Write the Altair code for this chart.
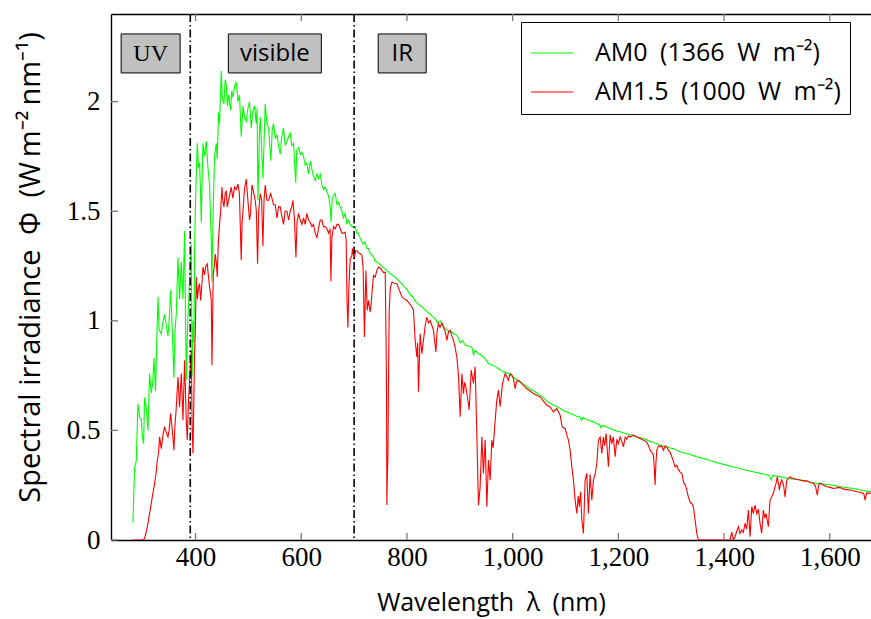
import altair as alt
import pandas as pd

# ---------------- data ----------------
AM0_WL = [281.6, 284.6, 287.8, 291.0, 294.0, 297.3, 299.5, 301.7, 303.5, 307.0, 310.0, 313.0, 316.2, 319.0,
          321.3, 324.3, 326.5, 328.9, 331.0, 335.1, 338.0, 341.4, 344.5, 347.8, 350.0, 352.7, 355.0, 359.1,
          361.0, 363.5, 366.7, 369.7, 373.0, 376.2, 379.2, 382.4, 384.5, 386.8, 389.0, 391.9, 393.5, 395.5,
          397.0, 398.1, 400.0, 403.2, 405.7, 407.6, 409.5, 410.8, 412.0, 414.0, 417.0, 420.2, 423.4, 426.5,
          429.7, 431.0, 432.9, 435.9, 439.2, 441.0, 443.5, 445.4, 448.6, 450.5, 453.7, 456.0, 458.0, 460.0,
          462.4, 466.2, 468.5, 470.7, 473.8, 477.0, 480.2, 483.2, 486.4, 489.7, 492.5, 495.9, 499.0, 502.1,
          505.4, 508.6, 511.6, 514.8, 516.5, 518.0, 521.0, 522.4, 527.5, 531.8, 535.0, 538.1, 542.6, 545.0,
          547.5, 551.0, 554.0, 557.0, 560.2, 563.0, 566.4, 569.5, 572.9, 576.0, 579.1, 582.0, 585.4, 589.5,
          591.5, 594.8, 598.0, 601.2, 604.3, 607.5, 610.7, 613.7, 617.0, 620.2, 623.0, 626.4, 629.6, 632.5,
          635.9, 639.1, 642.0, 645.3, 648.5, 651.6, 654.8, 656.5, 658.5, 661.0, 664.2, 667.5, 670.5, 673.7,
          677.0, 680.0, 683.0, 686.4, 689.0, 692.6, 695.8, 698.8, 702.0, 705.3, 708.0, 711.0, 714.7, 718.0,
          721.0, 724.0, 727.2, 730.0, 733.6, 737.0, 740.0, 743.1, 748.0, 752.6, 757.0, 762.0, 766.0, 771.5,
          777.0, 784.0, 790.0, 796.6, 801.0, 806.1, 811.0, 815.5, 820.0, 825.0, 830.0, 834.4, 839.0, 843.9,
          848.0, 853.4, 858.0, 862.8, 867.0, 872.3, 878.0, 884.9, 889.0, 894.4, 900.7, 905.0, 910.1, 916.0,
          922.8, 925.8, 929.0, 935.3, 940.0, 944.7, 950.0, 954.2, 959.0, 963.7, 968.0, 973.1, 978.0, 982.6,
          987.0, 992.0, 998.0, 1004.7, 1010.0, 1015.0, 1020.0, 1026.8, 1032.0, 1038.0, 1045.0, 1052.0, 1058.0,
          1064.0, 1070.0, 1077.0, 1083.0, 1090.0, 1096.0, 1102.5, 1108.0, 1115.0, 1121.0, 1127.6, 1130.0,
          1133.0, 1140.0, 1146.0, 1152.8, 1159.0, 1165.0, 1167.0, 1170.0, 1178.0, 1184.0, 1190.0, 1196.0,
          1203.0, 1210.0, 1216.0, 1222.0, 1228.0, 1235.0, 1241.0, 1248.0, 1253.8, 1260.0, 1266.0, 1272.0,
          1279.0, 1285.0, 1291.0, 1298.0, 1304.0, 1310.0, 1316.8, 1323.0, 1329.5, 1336.0, 1342.0, 1348.0,
          1354.7, 1361.0, 1367.0, 1373.0, 1380.0, 1386.0, 1392.4, 1399.0, 1405.0, 1411.0, 1418.0, 1424.0,
          1430.0, 1436.0, 1442.0, 1449.0, 1455.0, 1461.0, 1468.0, 1474.0, 1480.0, 1485.0, 1489.0, 1492.0,
          1498.0, 1505.8, 1512.0, 1518.0, 1525.0, 1531.0, 1537.0, 1543.6, 1550.0, 1556.0, 1562.0, 1569.0,
          1575.0, 1581.0, 1588.0, 1594.0, 1600.0, 1607.0, 1613.0, 1619.0, 1626.0, 1632.0, 1638.0, 1644.6,
          1651.0, 1657.0, 1663.0, 1670.0, 1678.0]
AM0_PHI = [0.08, 0.33, 0.36, 0.62, 0.56, 0.55, 0.47, 0.44, 0.65, 0.60, 0.50, 0.76, 0.67, 0.72,
           0.83, 0.68, 0.90, 1.11, 0.96, 0.94, 0.99, 1.03, 0.98, 0.93, 1.00, 1.14, 1.02, 0.74,
           0.95, 1.03, 1.29, 1.10, 1.27, 1.10, 1.41, 0.73, 0.95, 1.08, 1.20, 1.35, 0.75, 1.00,
           0.90, 1.31, 1.55, 1.81, 1.70, 1.72, 1.58, 1.45, 1.60, 1.81, 1.75, 1.82, 1.70, 1.62,
           1.37, 1.18, 1.45, 1.75, 1.81, 1.74, 1.95, 1.90, 2.14, 2.02, 1.99, 2.10, 2.08, 1.98,
           2.03, 1.96, 2.05, 2.02, 2.07, 2.09, 2.00, 2.03, 1.84, 1.98, 1.93, 1.91, 1.97, 2.00,
           1.88, 1.96, 1.98, 1.90, 1.97, 1.55, 1.86, 1.93, 1.65, 1.99, 1.90, 1.88, 1.73, 1.87,
           1.90, 1.83, 1.85, 1.80, 1.76, 1.84, 1.88, 1.80, 1.82, 1.84, 1.86, 1.80, 1.81, 1.63,
           1.78, 1.79, 1.76, 1.77, 1.75, 1.71, 1.72, 1.67, 1.73, 1.69, 1.66, 1.64, 1.67, 1.65,
           1.67, 1.62, 1.60, 1.61, 1.59, 1.57, 1.52, 1.45, 1.56, 1.57, 1.58, 1.53, 1.54, 1.52,
           1.50, 1.47, 1.49, 1.44, 1.46, 1.44, 1.43, 1.43, 1.43, 1.40, 1.40, 1.38, 1.36, 1.35,
           1.36, 1.33, 1.33, 1.31, 1.30, 1.29, 1.27, 1.27, 1.26, 1.25, 1.24, 1.23, 1.22, 1.21,
           1.20, 1.185, 1.17, 1.15, 1.14, 1.12, 1.11, 1.09, 1.08, 1.07, 1.06, 1.05, 1.04, 1.03,
           1.02, 1.01, 0.99, 1.00, 0.98, 0.965, 0.955, 0.95, 0.94, 0.935, 0.90, 0.91, 0.89, 0.885,
           0.88, 0.845, 0.865, 0.85, 0.845, 0.835, 0.82, 0.805, 0.80, 0.795, 0.79, 0.78, 0.775, 0.767,
           0.765, 0.758, 0.748, 0.736, 0.73, 0.72, 0.712, 0.70, 0.69, 0.683, 0.672, 0.66, 0.65,
           0.635, 0.625, 0.615, 0.61, 0.60, 0.59, 0.585, 0.578, 0.572, 0.565, 0.56, 0.545,
           0.558, 0.55, 0.545, 0.539, 0.532, 0.524, 0.512, 0.523, 0.516, 0.51, 0.503, 0.498,
           0.494, 0.488, 0.484, 0.48, 0.478, 0.472, 0.467, 0.462, 0.456, 0.45, 0.445, 0.44,
           0.433, 0.428, 0.425, 0.42, 0.417, 0.41, 0.403, 0.398, 0.395, 0.39, 0.385, 0.38,
           0.376, 0.372, 0.368, 0.363, 0.358, 0.353, 0.349, 0.345, 0.341, 0.337, 0.333, 0.33,
           0.327, 0.322, 0.318, 0.315, 0.311, 0.308, 0.304, 0.301, 0.298, 0.296, 0.274, 0.295,
           0.292, 0.289, 0.286, 0.283, 0.28, 0.278, 0.276, 0.274, 0.271, 0.268, 0.265, 0.262,
           0.258, 0.258, 0.255, 0.253, 0.252, 0.25, 0.247, 0.244, 0.241, 0.239, 0.237, 0.235,
           0.232, 0.229, 0.226, 0.223, 0.22]

AM15_WL = [281.0, 300.0, 303.5, 307.0, 310.0, 313.0, 316.2, 319.0, 322.5, 325.0, 327.6, 330.0, 331.9, 335.1,
           338.3, 341.4, 344.6, 347.8, 350.0, 352.7, 356.0, 359.1, 361.0, 363.5, 366.7, 369.7, 373.0, 376.2,
           379.2, 382.4, 384.3, 386.5, 388.7, 391.9, 393.6, 395.1, 396.5, 398.1, 399.5, 401.3, 403.5, 405.7,
           407.6, 409.5, 411.5, 414.0, 417.0, 419.5, 422.1, 424.5, 426.5, 429.7, 431.0, 433.5, 435.5, 437.3,
           439.5, 441.0, 443.0, 445.4, 447.5, 449.9, 451.5, 453.7, 456.0, 458.0, 460.0, 462.4, 465.0, 467.5,
           470.5, 473.8, 477.0, 480.2, 483.0, 486.4, 488.0, 489.7, 492.5, 495.9, 499.0, 502.1, 504.0, 506.7,
           508.6, 512.9, 515.0, 517.3, 519.5, 522.4, 525.0, 527.5, 529.5, 531.8, 535.0, 538.1, 542.0, 544.5,
           547.5, 550.7, 554.0, 557.0, 560.2, 563.0, 566.4, 569.5, 572.9, 576.0, 579.1, 582.0, 584.2, 587.0,
           589.9, 592.0, 594.8, 598.0, 601.2, 604.3, 607.5, 610.7, 613.7, 617.0, 620.2, 623.0, 626.4, 629.6,
           632.5, 635.9, 639.1, 642.0, 645.3, 648.5, 651.6, 654.5, 656.1, 658.0, 661.0, 664.2, 667.5, 670.5,
           673.7, 677.0, 679.9, 683.0, 685.0, 686.5, 688.3, 690.0, 692.6, 695.8, 697.0, 700.0, 703.0, 705.3,
           708.0, 711.5, 714.7, 717.0, 719.5, 722.3, 724.8, 727.2, 730.4, 732.3, 734.5, 736.7, 739.9, 743.0,
           746.2, 749.5, 752.6, 755.5, 758.8, 760.5, 761.3, 762.0, 763.0, 763.9, 765.0, 766.4, 768.5, 771.5,
           776.0, 781.0, 785.5, 790.4, 795.0, 799.9, 804.5, 809.3, 812.3, 815.5, 818.7, 820.3, 821.8, 825.0,
           828.2, 831.2, 834.5, 837.7, 840.5, 843.9, 847.0, 850.2, 854.7, 857.0, 859.6, 862.5, 866.1, 869.1,
           872.5, 875.5, 878.5, 881.8, 885.0, 888.0, 891.0, 894.4, 897.5, 900.7, 903.9, 906.9, 909.0, 911.4,
           914.5, 917.7, 921.5, 925.8, 929.0, 932.2, 935.3, 938.5, 941.7, 944.7, 948.0, 951.2, 954.2, 957.4,
           960.6, 963.0, 965.5, 968.0, 970.0, 973.1, 976.3, 978.5, 980.7, 983.5, 985.8, 989.0, 992.0, 995.0,
           998.5, 1001.5, 1004.7, 1007.5, 1010.5, 1014.2, 1020.4, 1026.8, 1033.0, 1039.3, 1045.5, 1052.0,
           1058.0, 1064.6, 1070.9, 1077.1, 1083.5, 1089.8, 1093.6, 1099.3, 1102.5, 1105.5, 1108.7, 1111.9,
           1115.0, 1118.2, 1121.4, 1124.0, 1126.3, 1128.5, 1130.9, 1133.9, 1137.1, 1140.3, 1143.3, 1146.5,
           1149.8, 1152.8, 1156.0, 1159.2, 1162.2, 1165.5, 1168.7, 1171.7, 1174.0, 1176.8, 1181.2, 1184.4,
           1187.5, 1190.6, 1193.9, 1197.1, 1200.0, 1203.3, 1206.5, 1209.6, 1213.0, 1216.0, 1219.0, 1222.3,
           1228.5, 1234.5, 1241.2, 1247.5, 1253.8, 1257.0, 1260.1, 1263.0, 1266.3, 1268.0, 1269.5, 1271.0,
           1272.7, 1276.0, 1279.0, 1282.0, 1285.2, 1288.5, 1291.6, 1294.5, 1297.9, 1301.1, 1304.0, 1307.3,
           1310.5, 1313.6, 1317.0, 1320.0, 1322.0, 1324.3, 1327.0, 1329.4, 1332.0, 1334.4, 1336.5, 1338.9,
           1341.9, 1345.2, 1348.4, 1351.4, 1411.3, 1414.6, 1417.6, 1420.8, 1424.0, 1427.0, 1430.2, 1433.5,
           1436.5, 1439.7, 1442.9, 1445.9, 1449.2, 1452.4, 1455.5, 1458.6, 1461.8, 1465.0, 1468.0, 1471.2,
           1474.3, 1477.0, 1479.4, 1483.8, 1487.0, 1490.2, 1493.2, 1496.0, 1498.4, 1500.8, 1504.6, 1507.0,
           1509.2, 1512.5, 1515.4, 1518.6, 1521.5, 1524.8, 1528.0, 1531.1, 1537.5, 1543.8, 1550.0, 1556.4,
           1562.5, 1569.0, 1573.0, 1576.5, 1579.0, 1581.6, 1588.0, 1594.3, 1600.5, 1606.8, 1613.0, 1619.4,
           1626.0, 1632.0, 1638.4, 1645.0, 1651.0, 1658.0, 1664.5, 1666.7, 1669.9, 1674.0, 1678.0]
AM15_PHI = [0.0, 0.0, 0.006, 0.04, 0.076, 0.12, 0.167, 0.21, 0.258, 0.30, 0.364, 0.40, 0.471, 0.417,
            0.48, 0.516, 0.49, 0.47, 0.50, 0.577, 0.50, 0.41, 0.52, 0.605, 0.744, 0.606, 0.76, 0.547,
            0.82, 0.55, 0.456, 0.62, 0.729, 0.866, 0.50, 0.395, 0.60, 0.85, 0.95, 1.20, 1.10, 1.155,
            1.17, 1.093, 1.15, 1.245, 1.21, 1.25, 1.26, 1.20, 1.155, 1.10, 0.797, 1.214, 1.25, 1.305,
            1.26, 1.20, 1.35, 1.442, 1.50, 1.61, 1.55, 1.519, 1.58, 1.594, 1.52, 1.55, 1.58, 1.61,
            1.56, 1.61, 1.60, 1.624, 1.58, 1.276, 1.45, 1.50, 1.60, 1.647, 1.55, 1.46, 1.49, 1.62,
            1.60, 1.55, 1.50, 1.26, 1.50, 1.58, 1.55, 1.34, 1.55, 1.62, 1.55, 1.55, 1.58, 1.56,
            1.53, 1.53, 1.47, 1.52, 1.52, 1.48, 1.44, 1.50, 1.50, 1.46, 1.50, 1.52, 1.55, 1.47,
            1.29, 1.45, 1.49, 1.46, 1.44, 1.47, 1.44, 1.49, 1.46, 1.45, 1.43, 1.44, 1.40, 1.38,
            1.42, 1.46, 1.46, 1.43, 1.43, 1.42, 1.40, 1.42, 1.18, 1.38, 1.43, 1.42, 1.44, 1.44,
            1.42, 1.40, 1.40, 1.405, 1.37, 1.10, 0.97, 1.15, 1.28, 1.30, 1.33, 1.28, 1.32, 1.32,
            1.31, 1.306, 1.30, 1.245, 0.926, 1.23, 1.048, 1.093, 1.04, 1.078, 1.15, 1.207, 1.199, 1.23,
            1.245, 1.24, 1.23, 1.22, 1.222, 0.90, 0.683, 0.16, 0.30, 0.379, 0.70, 1.047, 1.15, 1.177,
            1.17, 1.169, 1.14, 1.109, 1.10, 1.093, 1.08, 1.063, 1.048, 0.911, 0.835, 0.90, 0.676, 0.941,
            0.85, 0.911, 0.98, 1.017, 0.99, 1.002, 0.98, 0.957, 0.858, 0.95, 0.987, 0.97, 0.99, 0.972,
            0.95, 0.911, 0.95, 0.957, 0.93, 0.911, 0.88, 0.835, 0.75, 0.562, 0.759, 0.668, 0.72, 0.699,
            0.65, 0.593, 0.775, 0.714, 0.79, 0.486, 0.159, 0.243, 0.471, 0.304, 0.456, 0.152, 0.365, 0.274,
            0.456, 0.42, 0.502, 0.58, 0.638, 0.684, 0.608, 0.66, 0.714, 0.74, 0.759, 0.745, 0.729, 0.759,
            0.752, 0.737, 0.69, 0.725, 0.728, 0.721, 0.705, 0.69, 0.68, 0.668, 0.66, 0.653,
            0.635, 0.615, 0.607, 0.585, 0.60, 0.569, 0.516, 0.508, 0.48, 0.456, 0.41, 0.334,
            0.273, 0.182, 0.121, 0.20, 0.152, 0.22, 0.091, 0.03, 0.273, 0.304, 0.121, 0.30,
            0.182, 0.273, 0.30, 0.349, 0.456, 0.47, 0.395, 0.47, 0.43, 0.486, 0.334, 0.48,
            0.44, 0.47, 0.38, 0.46, 0.44, 0.47, 0.45, 0.425, 0.47, 0.46, 0.475, 0.47,
            0.478, 0.47, 0.463, 0.455, 0.447, 0.43, 0.41, 0.40, 0.387, 0.33, 0.251, 0.35,
            0.41, 0.43, 0.425, 0.43, 0.41, 0.43, 0.425, 0.41, 0.40, 0.38, 0.36, 0.334,
            0.34, 0.32, 0.31, 0.304, 0.28, 0.258, 0.25, 0.228, 0.20, 0.182, 0.17, 0.167,
            0.152, 0.091, 0.03, 0.0, 0.0, 0.036, 0.0, 0.015, 0.04, 0.061, 0.03, 0.046,
            0.035, 0.076, 0.05, 0.137, 0.015, 0.152, 0.12, 0.159, 0.121, 0.14, 0.076, 0.03,
            0.137, 0.10, 0.121, 0.061, 0.182, 0.197, 0.213, 0.24, 0.258, 0.289, 0.228, 0.26,
            0.274, 0.25, 0.197, 0.274, 0.28, 0.289, 0.283, 0.28, 0.277, 0.274, 0.27, 0.27,
            0.263, 0.258, 0.245, 0.205, 0.25, 0.26, 0.25, 0.243, 0.24, 0.235, 0.238, 0.24,
            0.232, 0.23, 0.228, 0.225, 0.22, 0.218, 0.21, 0.182, 0.215, 0.214, 0.213]

SERIES = ["AM0\u2002(1366\u2002W\u2002m⁻²)", "AM1.5\u2002(1000\u2002W\u2002m⁻²)"]
COLORS = ["#00ff00", "#ff0000"]
BOUNDARIES = [390, 700]
REGION_NAMES = ["UV", "visible", "IR"]
REGION_CENTERS = [315, 550, 791]
REGION_LEVEL = 2.22
X_TICKS = [400, 600, 800, 1000, 1200, 1400, 1600]
Y_TICKS = [0, 0.5, 1, 1.5, 2]
X_DOMAIN = [240, 1678]
Y_DOMAIN = [0, 2.4]

# ---------------- layout / style ----------------
W, H = 760, 526
SERIF = "Liberation Serif"
SANS = "Open Sans"
TICK_GRAY = "#7a7a7a"
TICK_LEN = 7

xscale = alt.Scale(domain=X_DOMAIN, nice=False, zero=False)
yscale = alt.Scale(domain=Y_DOMAIN, nice=False, zero=False)

spectra = pd.DataFrame({
    "wl": AM0_WL + AM15_WL,
    "phi": AM0_PHI + AM15_PHI,
    "series": [SERIES[0]] * len(AM0_WL) + [SERIES[1]] * len(AM15_WL),
})

lines = alt.Chart(spectra).mark_line(clip=True, strokeWidth=1.1).encode(
    x=alt.X("wl:Q", scale=xscale, axis=alt.Axis(
        orient="bottom", values=X_TICKS, labelExpr="format(datum.value, ',')",
        ticks=False, grid=False, domainColor="black", domainWidth=1.4,
        labelFont=SERIF, labelFontSize=27, labelColor="black", labelPadding=4,
        title="Wavelength\u2002λ\u2002(nm)", titleFont=SANS, titleFontSize=25,
        titleFontWeight="normal", titleColor="black", titlePadding=20)),
    y=alt.Y("phi:Q", scale=yscale, axis=alt.Axis(
        values=Y_TICKS, labelExpr="format(datum.value, '~g')", ticks=False, grid=False,
        domainColor="black", domainWidth=1.4,
        labelFont=SERIF, labelFontSize=27, labelColor="black", labelPadding=11,
        title="Spectral irradiance\u2002Φ\u2002(W\u2009m⁻²\u2009nm⁻¹)", titleFont=SANS,
        titleFontSize=29, titleFontWeight="normal", titleColor="black",
        titleAngle=270, titleBaseline="middle", titleAlign="center",
        titleX=-81, titleY=253)),
    color=alt.Color("series:N", scale=alt.Scale(domain=SERIES, range=COLORS),
                    legend=alt.Legend(
                        title=None, orient="none", legendX=410, legendY=8,
                        symbolType="stroke", symbolSize=1800, symbolStrokeWidth=1.2,
                        labelFont=SANS, labelFontSize=25, labelColor="black",
                        labelLimit=500, labelOffset=21, rowPadding=4,
                        strokeColor="black", fillColor="white", padding=9,
                        cornerRadius=0)),
)

bounds = alt.Chart(pd.DataFrame({"b": BOUNDARIES})).mark_rule(
    color="black", strokeWidth=1.6, strokeDash=[8, 3, 1.5, 3]
).encode(x=alt.X("b:Q", scale=xscale, axis=None))

regions = pd.DataFrame({"name": REGION_NAMES, "c": REGION_CENTERS,
                        "lvl": [REGION_LEVEL] * len(REGION_NAMES)})

# top frame line: an unlabelled axis on the top edge
frame = alt.Chart(regions).mark_point(opacity=0).encode(
    x=alt.X("c:Q", scale=xscale, axis=alt.Axis(
        orient="top", values=X_TICKS, labels=False, domain=True,
        domainColor="black", domainWidth=1.4, ticks=False, grid=False, title=None)),
    y=alt.Y("lvl:Q", scale=yscale, axis=None),
)

# inward tick marks, drawn as short rules at the tick values
xt = pd.DataFrame({"t": X_TICKS, "lo": Y_DOMAIN[0], "hi": Y_DOMAIN[1]})
yt = pd.DataFrame({"t": Y_TICKS, "left": X_DOMAIN[0]})
tick_bottom = alt.Chart(xt).mark_rule(color=TICK_GRAY, strokeWidth=1.3,
                                      y2Offset=-TICK_LEN).encode(
    x=alt.X("t:Q", scale=xscale, axis=None),
    y=alt.Y("lo:Q", scale=yscale, axis=None), y2="lo:Q")
tick_top = alt.Chart(xt).mark_rule(color=TICK_GRAY, strokeWidth=1.3,
                                   y2Offset=TICK_LEN).encode(
    x=alt.X("t:Q", scale=xscale, axis=None),
    y=alt.Y("hi:Q", scale=yscale, axis=None), y2="hi:Q")
tick_left = alt.Chart(yt).mark_rule(color=TICK_GRAY, strokeWidth=1.3,
                                    x2Offset=TICK_LEN).encode(
    y=alt.Y("t:Q", scale=yscale, axis=None),
    x=alt.X("left:Q", scale=xscale, axis=None), x2="left:Q")

BOX_W = {"UV": 59, "visible": 93, "IR": 48}
FONTS = {"UV": SERIF, "visible": SANS, "IR": SANS}
box_layers = []
for nm in REGION_NAMES:
    sub = alt.Chart(regions).transform_filter(alt.datum.name == nm)
    box_layers.append(sub.mark_rect(width=BOX_W[nm], height=39, fill="#c0c0c0",
                                    stroke="black", strokeWidth=1).encode(
        x=alt.X("c:Q", scale=xscale, axis=None),
        y=alt.Y("lvl:Q", scale=yscale, axis=None)))
    box_layers.append(sub.mark_text(font=FONTS[nm], fontSize=24, color="black",
                                    baseline="middle", align="center", dy=1).encode(
        x=alt.X("c:Q", scale=xscale, axis=None),
        y=alt.Y("lvl:Q", scale=yscale, axis=None),
        text="name:N"))

chart = alt.layer(lines, bounds, frame, tick_bottom, tick_top, tick_left, *box_layers).resolve_axis(
    x="independent", y="independent"
).properties(
    width=W, height=H,
    autosize=alt.AutoSizeParams(type="none"),
    padding={"left": 111, "top": 14, "right": 0, "bottom": 79},
).configure_view(stroke=None).configure(background="white")

chart.save("out.html", embed_options={"renderer": "svg", "actions": False})
